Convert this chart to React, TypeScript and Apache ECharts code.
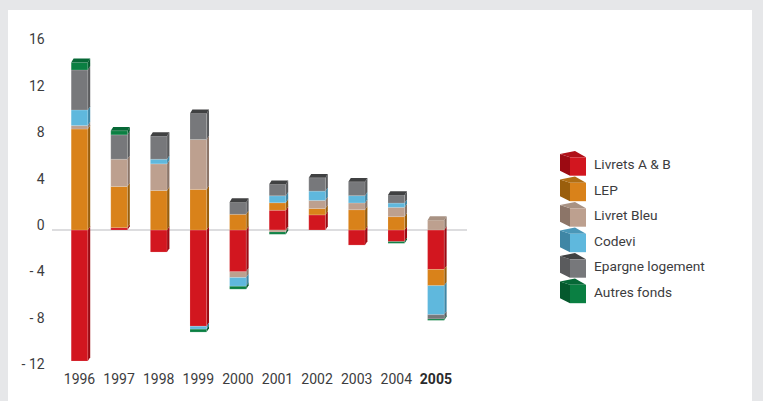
import React, { useEffect, useRef } from "react";
import * as echarts from "echarts";

const years = ["1996", "1997", "1998", "1999", "2000", "2001", "2002", "2003", "2004", "2005"];
const names = ["Livrets A & B", "LEP", "Livret Bleu", "Codevi", "Epargne logement", "Autres fonds"];
const front = ["#d2161f", "#d9821a", "#bda08f", "#5fb8dd", "#77787b", "#0a7f42"];
const side = ["#9c0a12", "#9a5e0c", "#8c7568", "#3f86a5", "#5a5b5d", "#05592d"];
const topFace = ["#b01018", "#b06e14", "#a89283", "#4a97b8", "#404142", "#066836"];

const livretsAB = [-11.3, 0.2, -1.9, -8.3, -3.6, 1.7, 1.3, -1.3, -1.0, -3.4];
const lep = [8.7, 3.55, 3.4, 3.5, 1.35, 0.65, 0.55, 1.75, 1.15, -1.4];
const livretBleu = [0.3, 2.35, 2.3, 4.3, -0.5, -0.17, 0.7, 0.58, 0.8, 0.85];
const codevi = [1.35, 0, 0.4, -0.25, -0.75, 0.6, 0.8, 0.63, 0.37, -2.5];
const epargne = [3.45, 2.1, 2.0, 2.25, 1.05, 1.0, 1.15, 1.2, 0.7, -0.37];
const autres = [0.65, 0.35, 0, -0.25, -0.25, -0.2, 0, 0, -0.15, -0.12];
const allSeries = [livretsAB, lep, livretBleu, codevi, epargne, autres];

const FONT = "Roboto, 'Liberation Sans', sans-serif";
const TEXT = "#3c3c3e";
const AXIS_SIZE = 14;
const LEGEND_SIZE = 13.7;
const DX = 2.4;
const DY = 3.8;

// stacked segments: positives upward and negatives downward, in series order
function segmentsFor(s: number) {
  return years.map((_, i) => {
    let pos = 0;
    let neg = 0;
    let start = 0;
    let end = 0;
    let isTop = false;
    for (let k = 0; k <= s; k++) {
      const v = allSeries[k][i];
      if (v >= 0) {
        start = pos;
        pos += v;
        end = pos;
      } else {
        start = neg;
        neg += v;
        end = neg;
      }
    }
    const v = allSeries[s][i];
    if (v > 0) {
      isTop = !allSeries.slice(s + 1).some((a) => a[i] > 0);
    }
    return [i, start, end, isTop ? 1 : 0];
  });
}

const renderSeg = (s: number) => (_p: any, api: any) => {
  const i = api.value(0);
  const a = api.value(1);
  const b = api.value(2);
  if (a === b) return { type: "group", children: [] };
  const w = api.size([1, 0])[0] * 0.42;
  const c = api.coord([i, a]);
  const d = api.coord([i, b]);
  const cx = c[0];
  const x0 = cx - w / 2;
  const x1 = cx + w / 2;
  const yA = Math.max(c[1], d[1]);
  const yB = Math.min(c[1], d[1]);
  const children: any[] = [
    {
      type: "polygon",
      shape: { points: [[x1, yA], [x1 + DX, yA - DY], [x1 + DX, yB - DY], [x1, yB]] },
      style: { fill: side[s] },
    },
    {
      type: "rect",
      shape: { x: x0, y: yB, width: w, height: yA - yB },
      style: { fill: front[s], stroke: "rgba(255,255,255,0.25)", lineWidth: 0.6 },
    },
  ];
  if (api.value(3) === 1) {
    children.push({
      type: "polygon",
      shape: { points: [[x0, yB], [x0 + DX, yB - DY], [x1 + DX, yB - DY], [x1, yB]] },
      style: { fill: topFace[s] },
    });
  }
  return { type: "group", children };
};

const LEG_X = 560;
const LEG_Y = 151;
const LEG_STEP = 25.5;

function legendCubes() {
  const out: any[] = [];
  names.forEach((_, s) => {
    const y = LEG_Y + s * LEG_STEP;
    out.push(
      { type: "polygon", z: 20, shape: { points: [[LEG_X, y + 3], [LEG_X + 10, y + 6.3], [LEG_X + 10, y + 24.7], [LEG_X, y + 19.7]] }, style: { fill: side[s] } },
      { type: "polygon", z: 20, shape: { points: [[LEG_X, y + 3], [LEG_X + 15, y], [LEG_X + 26, y + 6.3], [LEG_X + 10, y + 6.3]] }, style: { fill: topFace[s] } },
      { type: "rect", z: 20, shape: { x: LEG_X + 10, y: y + 6.3, width: 16, height: 18.4 }, style: { fill: front[s] } }
    );
  });
  return out;
}

export default function App() {
  const ref = useRef<HTMLDivElement>(null);
  useEffect(() => {
    document.body.style.margin = "0";
    const chart = echarts.init(ref.current!, undefined, { renderer: "svg" });
    chart.setOption({
      animation: false,
      backgroundColor: "#e6e7e9",
      textStyle: { fontFamily: FONT },
      grid: { left: 59.7, width: 396, top: 44.4, height: 324.8 },
      legend: {
        orient: "vertical",
        left: LEG_X,
        top: LEG_Y + 0.5,
        padding: 0,
        itemWidth: 29,
        itemHeight: 25,
        itemGap: 0.5,
        itemStyle: { opacity: 0 },
        icon: "rect",
        selectedMode: false,
        data: names,
        textStyle: { fontFamily: FONT, fontSize: LEGEND_SIZE, color: TEXT },
      },
      xAxis: {
        type: "category",
        data: years.map((y) =>
          y === "2005" ? { value: y, textStyle: { fontWeight: "bold", color: "#2a2a2c" } } : y
        ),
        position: "bottom",
        axisLine: { show: false },
        axisTick: { show: false },
        splitLine: { show: false },
        axisLabel: { fontFamily: FONT, fontSize: AXIS_SIZE, color: TEXT, margin: 3, interval: 0 },
      },
      yAxis: {
        type: "value",
        min: -12,
        max: 16,
        interval: 4,
        axisLine: { show: false },
        axisTick: { show: false },
        splitLine: { show: false },
        axisLabel: {
          fontFamily: FONT,
          fontSize: AXIS_SIZE,
          color: TEXT,
          margin: 15,
          verticalAlign: "bottom",
          lineHeight: 10,
          formatter: (v: number) => (v < 0 ? "- " + Math.abs(v) : String(v)),
        },
      },
      graphic: [
        { type: "rect", z: -1, shape: { x: 8, y: 10, width: 744, height: 391 }, style: { fill: "#ffffff" } },
        { type: "line", z: 1, shape: { x1: 52, y1: 230, x2: 467, y2: 230 }, style: { stroke: "#d2d2d5", lineWidth: 1.5 } },
        ...legendCubes(),
      ],
      series: names.map((name, s) => ({
        name,
        type: "custom",
        z: 2 + s,
        itemStyle: { color: front[s] },
        encode: { x: 0, y: [1, 2] },
        data: segmentsFor(s),
        renderItem: renderSeg(s),
      })),
    });
    return () => chart.dispose();
  }, []);
  return <div ref={ref} style={{ width: 763, height: 401 }} />;
}
